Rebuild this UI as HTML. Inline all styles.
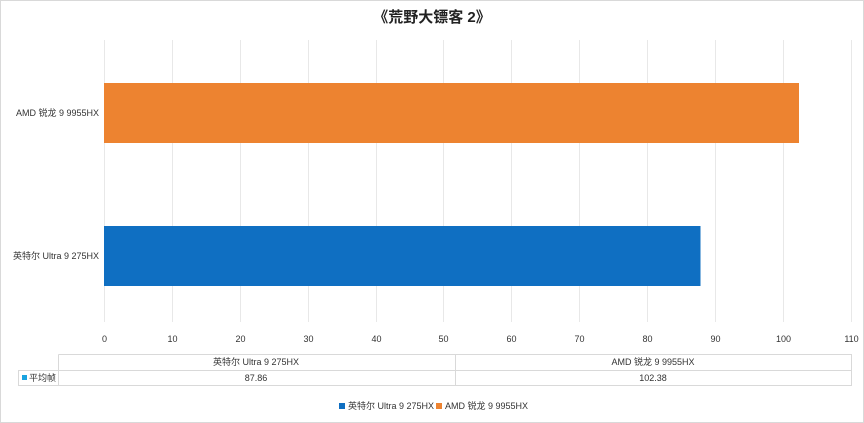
<!DOCTYPE html>
<html><head><meta charset="utf-8"><style>
body{margin:0;background:#fff}
svg{display:block;font-family:"Liberation Sans","Noto Sans CJK SC",sans-serif}
</style></head><body>
<svg width="864" height="423" viewBox="0 0 864 423">
<rect x="0.5" y="0.5" width="863" height="422" fill="#fff" stroke="#d9d9d9"/>
<text x="432" y="22" text-anchor="middle" font-size="15" font-weight="bold" fill="#222">《荒野大镖客 2》</text>
<g stroke="#e8e8e8" stroke-width="1">
<line x1="104.5" y1="40" x2="104.5" y2="322"/>
<line x1="172.5" y1="40" x2="172.5" y2="322"/>
<line x1="240.5" y1="40" x2="240.5" y2="322"/>
<line x1="308.5" y1="40" x2="308.5" y2="322"/>
<line x1="376.5" y1="40" x2="376.5" y2="322"/>
<line x1="443.5" y1="40" x2="443.5" y2="322"/>
<line x1="511.5" y1="40" x2="511.5" y2="322"/>
<line x1="579.5" y1="40" x2="579.5" y2="322"/>
<line x1="647.5" y1="40" x2="647.5" y2="322"/>
<line x1="715.5" y1="40" x2="715.5" y2="322"/>
<line x1="783.5" y1="40" x2="783.5" y2="322"/>
<line x1="851.5" y1="40" x2="851.5" y2="322"/>
</g>
<rect x="104" y="83" width="695" height="60" fill="#ed8330"/>
<rect x="104" y="226" width="596.5" height="60" fill="#0f6fc2"/>
<g font-size="9" fill="#333" text-anchor="end">
<text x="99" y="116">AMD 锐龙 9 9955HX</text>
<text x="99" y="259">英特尔 Ultra 9 275HX</text>
</g>
<g font-size="9" fill="#333" text-anchor="middle">
<text x="104.5" y="342">0</text><text x="172.5" y="342">10</text><text x="240.5" y="342">20</text>
<text x="308.5" y="342">30</text><text x="376.5" y="342">40</text><text x="443.5" y="342">50</text>
<text x="511.5" y="342">60</text><text x="579.5" y="342">70</text><text x="647.5" y="342">80</text>
<text x="715.5" y="342">90</text><text x="783.5" y="342">100</text><text x="851.5" y="342">110</text>
</g>
<g stroke="#d9d9d9" fill="none">
<path d="M58.5 354.5H851.5V385.5H18.5V370.5H851.5M58.5 354.5V385.5M455.5 354.5V385.5"/>
</g>
<g font-size="9" fill="#333" text-anchor="middle">
<text x="256" y="365">英特尔 Ultra 9 275HX</text>
<text x="653" y="365">AMD 锐龙 9 9955HX</text>
<text x="256" y="381">87.86</text>
<text x="653" y="381">102.38</text>
</g>
<rect x="22" y="375" width="5" height="5" fill="#1aa3e0"/>
<text x="29" y="381" font-size="9" fill="#333">平均帧</text>
<rect x="339" y="403" width="6" height="6" fill="#0f6fc2"/>
<text x="348" y="409" font-size="9" fill="#333">英特尔 Ultra 9 275HX</text>
<rect x="436" y="403" width="6" height="6" fill="#ed8330"/>
<text x="445" y="409" font-size="9" fill="#333">AMD 锐龙 9 9955HX</text>
</svg>
</body></html>
